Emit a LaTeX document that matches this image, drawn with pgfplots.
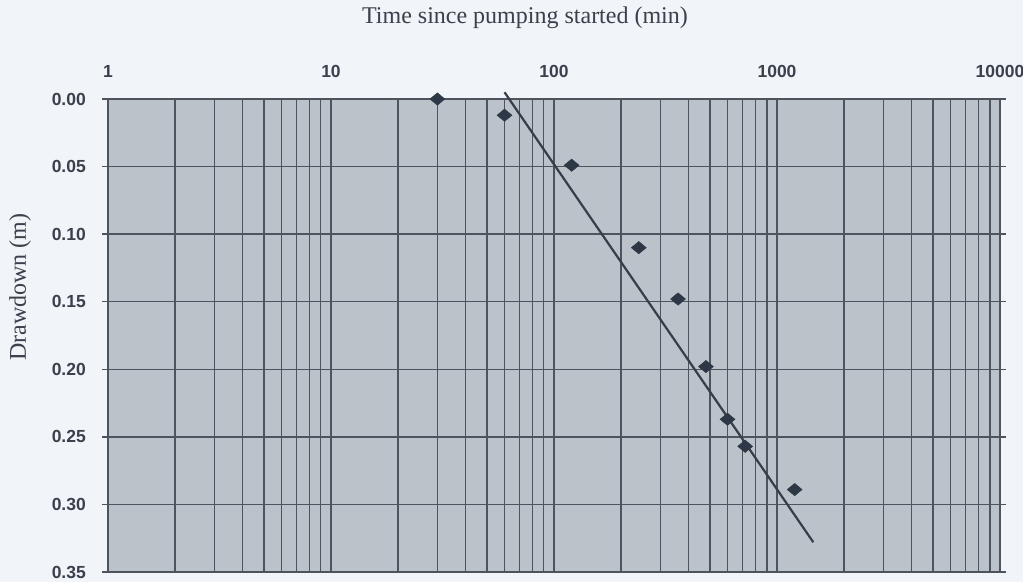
\documentclass[border=0pt]{standalone}
\usepackage{fontspec}
\setmainfont{Liberation Serif}
\newfontfamily\arialf{Liberation Sans}
\usepackage{pgfplots}
\pgfplotsset{compat=1.18}
\definecolor{pagebg}{RGB}{241,244,248}
\definecolor{plotbg}{RGB}{188,194,201}
\definecolor{gridc}{RGB}{78,84,94}
\definecolor{markc}{RGB}{45,55,70}
\definecolor{linec}{RGB}{55,61,73}
\definecolor{textc}{RGB}{58,64,76}
\begin{document}
\begin{tikzpicture}
\useasboundingbox[fill=pagebg] (-108pt,-10pt) rectangle (915pt,572pt);
\begin{axis}[
  at={(0pt,0pt)}, anchor=south west,
  scale only axis, width=892pt, height=473pt,
  xmode=log, xmin=1, xmax=10000,
  ymin=0, ymax=0.35, y dir=reverse,
  xtick={1,10,100,1000,10000},
  xticklabels={1,10,100,1000,10000},
  ytick={0,0.05,0.1,0.15,0.2,0.25,0.3,0.35},
  xticklabel pos=upper,
  /pgf/number format/assume math mode=true,
  yticklabel style={/pgf/number format/fixed,/pgf/number format/fixed zerofill,/pgf/number format/precision=2},
  tick label style={font=\arialf\bfseries\fontsize{17.5}{21}\selectfont, text=textc},
  x tick label style={anchor=base, inner sep=0pt},
  xticklabel shift=16pt,
  y tick label style={anchor=east, inner sep=0pt},
  yticklabel shift=16pt,
  tick align=outside,
  major tick length=6pt,
  minor tick length=0pt,
  every major x tick/.style={draw=none},
  every tick/.style={gridc, line width=1.3pt},
  grid=both,
  major grid style={gridc, line width=1.4pt},
  minor grid style={gridc, line width=1.4pt},
  minor y tick num=0,
  axis line style={gridc, line width=1.4pt},
  axis background/.style={fill=plotbg},
  clip=false,
]
\addplot[only marks, mark=diamond*, mark size=10pt, color=markc, mark options={yscale=0.62}]
coordinates {(30,0) (60,0.012) (120,0.049) (240,0.110) (360,0.148) (480,0.198) (600,0.237) (720,0.257) (1200,0.289)};
\addplot[linec, line width=2.2pt] coordinates {(60,-0.005) (1455,0.328)};
\end{axis}
\node[text=textc, font=\fontsize{24}{28}\selectfont] at (417pt,554pt) {Time since pumping started (min)};
\node[text=textc, font=\fontsize{24}{28}\selectfont, rotate=90] at (-88pt,285pt) {Drawdown (m)};
\end{tikzpicture}
\end{document}
